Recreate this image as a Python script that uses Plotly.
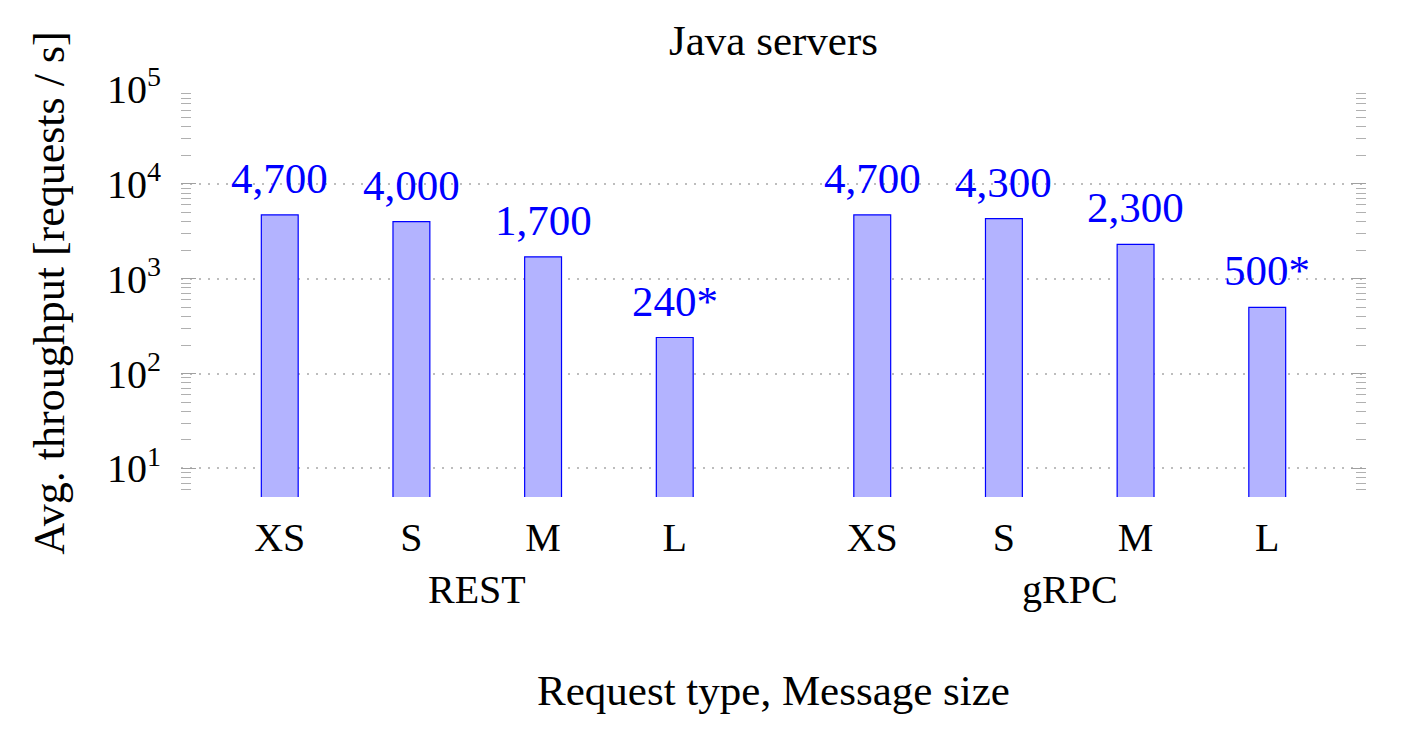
import math
import plotly.graph_objects as go

categories = ["XS", "S", "M", "L"]
groups = ["REST", "gRPC"]
rest_values = [4700, 4000, 1700, 240]
grpc_values = [4700, 4300, 2300, 500]
rest_labels = ["4,700", "4,000", "1,700", "240*"]
grpc_labels = ["4,700", "4,300", "2,300", "500*"]
major_ticks = [10, 100, 1000, 10000, 100000]
major_labels = ["10<sup>1</sup>", "10<sup>2</sup>", "10<sup>3</sup>", "10<sup>4</sup>", "10<sup>5</sup>"]

FONT = "Liberation Serif"
BLUE = "rgb(0,0,255)"
FS = 40

# positions: groups separated by an extra half slot
x_rest = [i for i in range(len(categories))]
x_grpc = [i + len(categories) + 0.5 for i in range(len(categories))]
xs = x_rest + x_grpc
vals = rest_values + grpc_values
labels = rest_labels + grpc_labels

minor_ticks = []
for e in range(0, 5):
    for m in range(2, 10):
        v = m * 10 ** e
        if v >= 5 and v < 100000:
            minor_ticks.append(v)

fig = go.Figure()
fig.add_trace(go.Bar(
    x=xs, y=vals, width=0.28,
    marker=dict(color="rgb(179,179,255)", line=dict(color=BLUE, width=1.2)),
    hoverinfo="skip",
))

for x, v, t in zip(xs, vals, labels):
    fig.add_annotation(x=x, y=math.log10(v), text=t, showarrow=False,
                       yanchor="bottom", yshift=11,
                       font=dict(family=FONT, size=43, color=BLUE))

for gi, g in enumerate(groups):
    pos = x_rest if gi == 0 else x_grpc
    fig.add_annotation(x=sum(pos) / len(pos), y=0, yref="paper", text=g,
                       showarrow=False, yanchor="middle", yshift=-92,
                       font=dict(family=FONT, size=FS, color="black"))

fig.update_layout(
    width=1400, height=718,
    margin=dict(l=173, r=42, t=81, b=229, autoexpand=False),
    paper_bgcolor="white", plot_bgcolor="white",
    showlegend=False,
    font=dict(family=FONT, size=FS, color="black"),
    title=dict(text="Java servers", x=0.5468, xanchor="center", y=0.9554, yanchor="middle",
               font=dict(family=FONT, size=43, color="black")),
    xaxis=dict(
        range=[-0.75, 8.25], automargin=False,
        tickmode="array", tickvals=xs, ticktext=categories + categories,
        ticks="outside", ticklen=5, tickcolor="rgba(0,0,0,0)",
        showgrid=False, zeroline=False, showline=False,
        tickfont=dict(family=FONT, size=FS),
        title=dict(text="Request type, Message size", standoff=115,
                   font=dict(family=FONT, size=43)),
    ),
    yaxis=dict(
        type="log", range=[math.log10(5), 5], automargin=False,
        tickmode="array", tickvals=major_ticks, ticktext=major_labels,
        ticks="inside", ticklen=15, tickcolor="#a0a0a0", tickwidth=1,
        mirror="ticks", showline=False, zeroline=False,
        showgrid=True, gridcolor="#bdbdbd", griddash="1.5px,7.5px", gridwidth=1.5,
        tickfont=dict(family=FONT, size=FS),
        ticklabelstandoff=19,
        minor=dict(tickmode="array", tickvals=minor_ticks, ticks="inside",
                   ticklen=10, tickcolor="#b0b0b0", tickwidth=1, showgrid=False),
        title=dict(text="Avg. throughput [requests / s]", standoff=28,
                   font=dict(family=FONT, size=44)),
    ),
)

fig.write_html("out.html")
